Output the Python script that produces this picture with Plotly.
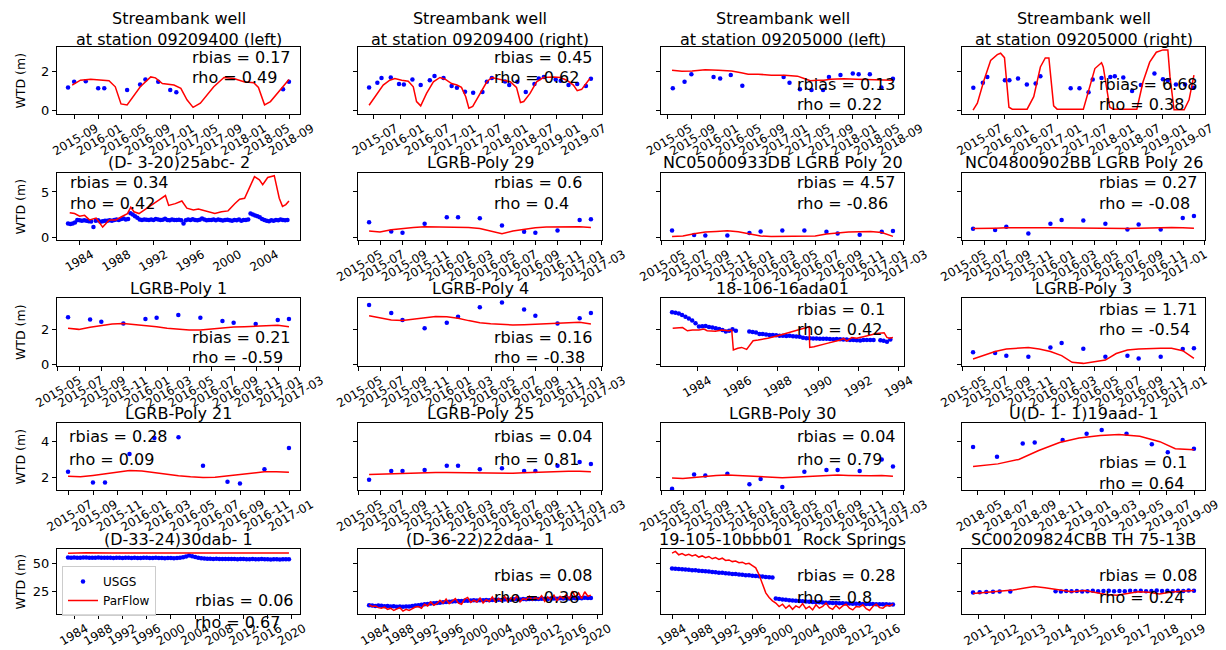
import numpy as np
import pandas as pd
import plotly.graph_objects as go

# ---------------------------------------------------------------- titles / stats
TITLES = [
    "Streambank well<br>at station 09209400 (left)",
    "Streambank well<br>at station 09209400 (right)",
    "Streambank well<br>at station 09205000 (left)",
    "Streambank well<br>at station 09205000 (right)",
    "(D- 3-20)25abc- 2", "LGRB-Poly 29", "NC05000933DB LGRB Poly 20", "NC04800902BB LGRB Poly 26",
    "LGRB-Poly 1", "LGRB-Poly 4", "18-106-16ada01", "LGRB-Poly 3",
    "LGRB-Poly 21", "LGRB-Poly 25", "LGRB-Poly 30", "U(D- 1- 1)19aad- 1",
    "(D-33-24)30dab- 1", "(D-36-22)22daa- 1", "19-105-10bbb01  Rock Springs", "SC00209824CBB TH 75-13B",
]
RBIAS = [0.17, 0.45, 0.13, 6.68, 0.34, 0.6, 4.57, 0.27, 0.21, 0.16, 0.1, 1.71,
         0.28, 0.04, 0.04, 0.1, 0.06, 0.08, 0.28, 0.08]
RHO = [0.49, 0.62, 0.22, 0.38, 0.42, 0.4, -0.86, -0.08, -0.59, -0.38, 0.42, -0.54,
       0.09, 0.81, 0.79, 0.64, 0.67, 0.38, 0.8, 0.24]

# ---------------------------------------------------------------- panel 1
P1_OBS_T = ['2015-08-01', '2015-09-01', '2015-10-30', '2016-01-01', '2016-02-01', '2016-05-27', '2016-08-01',
            '2016-08-28', '2016-11-01', '2017-01-01', '2017-02-01', '2018-07-28', '2018-08-27']
P1_OBS = [1.17, 1.46, 1.49, 1.12, 1.12, 1.03, 1.32, 1.58, 1.46, 1.03, 0.92, 1.08, 1.46]
P1_SIM_T = ['2015-08-22', '2015-10-03', '2015-11-24', '2016-01-13', '2016-02-25', '2016-03-28', '2016-04-26',
            '2016-05-27', '2016-08-02', '2016-09-24', '2016-10-18', '2016-11-22', '2017-01-20', '2017-02-24',
            '2017-03-27', '2017-04-27', '2017-06-03', '2017-08-10', '2017-10-01', '2017-11-20', '2018-01-10',
            '2018-03-01', '2018-03-25', '2018-04-25', '2018-05-25', '2018-08-27']
P1_SIM = [1.29, 1.54, 1.59, 1.54, 1.51, 1.2, 0.32, 0.27, 1.2, 1.71, 1.66, 1.37, 1.29, 1.12, 0.53, 0.14, 0.36,
          1.2, 1.68, 1.63, 1.46, 1.41, 1.17, 0.27, 0.44, 1.58]

# ---------------------------------------------------------------- panel 2
P2_OBS_T = ['2015-05-29', '2015-07-26', '2015-08-24', '2015-10-28', '2015-12-25', '2016-01-28', '2016-03-28',
            '2016-05-25', '2016-07-28', '2016-08-30', '2016-11-01', '2016-12-28', '2017-02-03', '2017-04-01',
            '2017-05-28', '2017-08-01', '2017-09-01', '2017-10-06', '2018-01-07', '2018-02-05', '2018-04-03',
            '2018-06-01', '2018-08-01', '2018-09-01', '2018-10-06', '2018-12-28', '2019-02-01', '2019-03-28',
            '2019-05-28', '2019-07-28', '2019-09-01']
P2_OBS = [1.17, 1.41, 1.66, 1.68, 1.34, 1.32, 1.58, 1.29, 1.54, 1.76, 1.66, 1.24, 1.15, 0.95, 0.9, 0.93, 1.46,
          1.66, 1.47, 1.29, 1.46, 0.93, 1.34, 1.63, 1.71, 1.58, 1.51, 1.29, 1.34, 1.24, 1.61]
P2_SIM_T = ['2015-05-29', '2015-07-19', '2015-09-05', '2015-10-21', '2015-11-26', '2016-01-13', '2016-02-28',
            '2016-04-03', '2016-04-26', '2016-05-25', '2016-07-05', '2016-08-22', '2016-10-07', '2016-11-12',
            '2016-12-28', '2017-02-03', '2017-03-07', '2017-04-06', '2017-04-28', '2017-05-25', '2017-07-16',
            '2017-09-01', '2017-10-06', '2017-12-04', '2018-02-12', '2018-03-28', '2018-04-25', '2018-05-18',
            '2018-07-01', '2018-08-16', '2018-10-03', '2018-12-12', '2019-01-28', '2019-03-16', '2019-05-01',
            '2019-05-28', '2019-06-28', '2019-08-25']
P2_SIM = [0.25, 0.78, 1.29, 1.54, 1.63, 1.54, 1.49, 1.2, 0.44, 0.22, 0.86, 1.46, 1.68, 1.59, 1.37, 1.29, 1.17,
          0.69, 0.1, 0.19, 0.86, 1.46, 1.68, 1.59, 1.46, 1.17, 0.39, 0.44, 0.86, 1.46, 1.68, 1.71, 1.68, 1.54,
          1.29, 1.0, 1.07, 1.63]

# ---------------------------------------------------------------- panel 3
P3_OBS_T = ['2015-05-27', '2015-07-28', '2015-09-02', '2015-12-28', '2016-02-01', '2016-03-28', '2016-05-28',
            '2017-01-01', '2017-02-01', '2017-03-28', '2017-05-28', '2017-07-28', '2017-08-28', '2017-10-28',
            '2018-01-01', '2018-02-01', '2018-04-01', '2018-06-01', '2018-08-01']
P3_OBS = [1.12, 1.46, 1.85, 1.71, 1.63, 1.81, 1.25, 1.71, 1.41, 1.07, 1.03, 1.03, 1.71, 1.81, 1.88, 1.85, 1.85,
          1.17, 1.61]
P3_SIM_T = ['2015-05-23', '2015-07-14', '2015-09-06', '2015-11-14', '2016-01-23', '2016-04-01', '2016-05-22',
            '2016-06-28', '2016-08-19', '2016-10-28', '2017-01-06', '2017-03-15', '2017-04-19', '2017-05-22',
            '2017-06-28', '2017-08-01', '2017-09-06', '2017-11-15', '2018-01-22', '2018-04-01', '2018-06-10',
            '2018-08-01']
P3_SIM = [2.05, 2.0, 2.02, 2.08, 2.05, 2.02, 1.92, 1.85, 1.85, 1.8, 1.8, 1.75, 1.63, 1.51, 1.54, 1.54, 1.59,
          1.61, 1.59, 1.58, 1.54, 1.54]

# ---------------------------------------------------------------- panel 4
P4_OBS_T = ['2015-05-27', '2015-08-01', '2015-09-01', '2016-01-01', '2016-02-01', '2016-04-01', '2016-06-01',
            '2016-08-01', '2016-09-03', '2017-04-01', '2017-06-01', '2017-08-03', '2017-09-01', '2017-11-01',
            '2018-01-01', '2018-02-01', '2018-04-01', '2018-06-01', '2018-08-01', '2018-11-03', '2019-01-01',
            '2019-02-04', '2019-04-01', '2019-06-03', '2019-08-01']
P4_OBS = [1.15, 1.41, 1.71, 1.54, 1.54, 1.63, 1.32, 1.37, 1.75, 1.12, 1.12, 0.92, 1.58, 1.66, 1.71, 1.75, 1.68,
          0.98, 1.29, 1.88, 1.59, 1.54, 1.32, 1.32, 1.15]
P4_SIM_T = ['2015-05-25', '2015-06-24', '2015-08-09', '2015-09-24', '2015-11-09', '2015-12-02', '2015-12-29',
            '2016-01-29', '2016-02-21', '2016-06-03', '2016-07-19', '2016-09-03', '2016-10-07', '2016-11-01',
            '2016-12-04', '2016-12-28', '2017-06-28', '2017-08-13', '2017-09-16', '2017-11-01', '2017-11-13',
            '2017-12-28', '2018-01-21', '2018-07-04', '2018-08-16', '2018-10-01', '2018-11-16', '2019-01-01',
            '2019-02-04', '2019-02-19', '2019-03-19', '2019-05-28', '2019-07-01', '2019-08-04']
P4_SIM = [0.0, 0.36, 1.54, 2.56, 2.86, 2.93, 2.7, 0.15, 0.05, 0.05, 0.69, 2.22, 2.69, 2.69, 0.22, 0.05, 0.05,
          1.2, 2.14, 2.44, 2.22, 0.15, 0.05, 0.05, 1.46, 2.47, 2.98, 3.1, 3.1, 1.71, 0.02, 0.02, 0.53, 1.8]

# ---------------------------------------------------------------- panel 5 (quarterly obs from 1982.75)
P5_OBS_START = 1982.75
P5_OBS = [1.50,
          1.45, 1.50, 1.62, 1.88, 1.85, 1.80, 1.86, 1.80, 1.75, 1.72, 1.10, 1.80, 1.85, 1.70, 1.74, 1.80,
          1.80, 1.86, 1.80, 1.90, 1.95, 1.90, 2.00, 2.05, 1.95, 2.00, 2.65, 2.50, 2.30, 2.15, 1.95, 1.90,
          1.95, 1.92, 1.88, 1.95, 1.90, 2.00, 1.95, 1.88, 1.92, 2.02, 1.90, 1.85, 1.95, 1.90, 1.88, 1.92,
          1.85, 1.50, 1.85, 1.95, 1.90, 1.98, 1.88, 1.85, 1.92, 2.05, 1.95, 1.85, 1.90, 1.88, 1.95, 1.85,
          1.95, 1.90, 1.82, 1.88, 1.92, 1.85, 1.80, 1.90, 1.85, 1.95, 1.80, 1.88, 1.90, 1.95, 2.60, 2.50,
          2.40, 2.30, 2.20, 2.00, 1.90, 1.80, 1.75, 1.85, 1.80, 1.90, 1.85, 1.95,
          1.90, 1.85, 1.90]
P5_SIM_YR = [1982.93, 1983.46, 1984.0, 1984.54, 1985.07, 1985.79, 1986.32, 1986.5, 1987.21, 1987.93, 1988.64,
             1989.18, 1989.54, 1989.89, 1990.43, 1991.14, 1991.86, 1992.57, 1993.29, 1993.64, 1994.36, 1995.07,
             1995.61, 1996.32, 1996.86, 1997.57, 1998.64, 1999.36, 2000.07, 2000.79, 2001.32, 2001.86, 2002.39,
             2002.93, 2003.46, 2003.82, 2004.36, 2005.07, 2005.61, 2005.96, 2006.32, 2006.66]
P5_SIM = [2.7, 2.6, 2.3, 2.4, 1.9, 2.1, 1.35, 1.1, 1.9, 1.9, 2.3, 2.6, 3.3, 2.8, 2.6, 3.1, 3.7, 4.1, 4.6, 3.5,
          3.7, 4.0, 3.2, 3.0, 3.1, 2.9, 2.6, 2.8, 2.9, 3.7, 4.2, 4.3, 5.5, 6.7, 6.35, 5.8, 6.6, 6.8, 4.3, 3.4,
          3.6, 4.0]

# ---------------------------------------------------------------- LGRB panels (shared sample dates)
LGRB_OBS_T = ['2015-05-31', '2015-07-31', '2015-08-31', '2015-10-31', '2015-12-31', '2016-01-31', '2016-03-31',
              '2016-05-31', '2016-07-31', '2016-08-31', '2016-10-31', '2016-12-31', '2017-01-31']
LGRB_SIM_T = [d.strftime('%Y-%m-%d') for d in pd.date_range('2015-05-31', '2017-01-31', freq='ME')]

P6_OBS = [1.64, 0.62, 0.47, 1.46, 2.19, 2.19, 2.08, 1.28, 0.58, 0.47, 0.73, 1.9, 1.97]
P6_SIM = [0.66, 0.55, 0.8, 0.95, 1.06, 1.13, 1.13, 1.1, 1.1, 1.06, 0.95, 0.62, 0.36, 0.66, 0.88, 1.02, 1.1,
          1.13, 1.17, 1.13, 1.06]
P7_OBS = [0.73, 0.22, 0.18, 0.18, 0.44, 0.62, 0.73, 0.73, 0.58, 0.4, 0.26, 0.58, 0.66]
P7_SIM = [0.07, 0.11, 0.36, 0.55, 0.62, 0.69, 0.58, 0.36, 0.11, 0.07, 0.07, 0.07, 0.07, 0.11, 0.33, 0.47, 0.55,
          0.58, 0.62, 0.51, 0.07]
P8_OBS = [0.91, 0.77, 1.13, 0.4, 1.46, 1.9, 1.82, 1.46, 0.84, 1.39, 0.84, 2.12, 2.34]
P8_SIM = [0.95, 0.93, 0.98, 1.02, 1.05, 1.06, 1.04, 1.02, 1.0, 0.98, 0.96, 0.95, 0.93, 0.92, 0.95, 0.98, 1.02,
          1.05, 1.06, 1.02, 0.98]
P9_OBS = [2.67, 2.55, 2.42, 2.32, 2.57, 2.65, 2.8, 2.65, 2.46, 2.36, 2.29, 2.51, 2.57]
P9_SIM = [2.04, 1.98, 2.1, 2.19, 2.29, 2.32, 2.27, 2.21, 2.13, 2.04, 1.98, 1.94, 1.94, 2.0, 2.08, 2.11, 2.13,
          2.17, 2.21, 2.21, 2.13]
P10_OBS = [3.37, 2.91, 2.51, 2.04, 2.36, 2.7, 3.24, 3.52, 3.12, 2.76, 2.32, 2.61, 2.91]
P10_SIM = [2.76, 2.63, 2.51, 2.48, 2.55, 2.63, 2.72, 2.7, 2.61, 2.48, 2.36, 2.3, 2.27, 2.23, 2.25, 2.27, 2.29,
           2.32, 2.34, 2.38, 2.29]
P12_OBS = [0.67, 0.63, 0.48, 0.42, 0.95, 1.2, 0.88, 0.42, 0.48, 0.32, 0.42, 0.86, 0.9]
P12_SIM = [0.29, 0.48, 0.72, 0.86, 0.91, 0.95, 0.86, 0.72, 0.48, 0.1, 0.04, 0.13, 0.23, 0.6, 0.8, 0.86, 0.9,
           0.9, 0.9, 0.76, 0.32]
P14_OBS = [1.85, 2.35, 2.35, 2.4, 2.65, 2.65, 2.45, 2.5, 2.35, 2.35, 2.65, 2.85, 2.75]
P14_SIM = [2.15, 2.17, 2.2, 2.22, 2.25, 2.27, 2.27, 2.26, 2.25, 2.23, 2.22, 2.2, 2.2, 2.22, 2.25, 2.28, 2.3,
           2.32, 2.33, 2.33, 2.3]
P15_OBS = [1.35, 2.15, 2.1, 2.2, 1.6, 1.9, 1.45, 2.3, 2.4, 2.4, 2.35, 3.0, 2.6]
P15_SIM = [1.95, 1.93, 1.98, 2.05, 2.1, 2.13, 2.1, 2.05, 2.0, 1.98, 1.97, 2.0, 2.03, 2.07, 2.1, 2.12, 2.1, 2.07,
           2.08, 2.1, 2.05]

# ---------------------------------------------------------------- panel 11 (bi-monthly obs from 1982-10)
P11_OBS_START = '1982-10-01'
P11_OBS = [2.95, 2.93, 2.88, 2.80, 2.70, 2.60, 2.48, 2.33, 2.14, 2.16, 2.17, 2.12, 2.09, 2.04, 2.00, 1.95,
           1.86, 1.90, 1.98, 1.90, None, None, None, 1.86, 1.83, 1.80, 1.72, 1.71, 1.69, 1.66, 1.66, 1.64,
           1.62, 1.61, 1.60, 1.61, 1.59, 1.58, 1.56, 1.50, 1.47, 1.48, 1.46, 1.46, 1.45, 1.44, 1.44, 1.43,
           1.42, 1.43, 1.41, 1.40, 1.40, 1.38, 1.37, 1.36, 1.35, 1.37, 1.38, 1.37, 1.37, None, 1.36, 1.33,
           1.28, 1.40]
P11_SIM_YR = [1982.78, 1983.10, 1983.27, 1983.51, 1983.76, 1984.08, 1984.33, 1984.49, 1984.90, 1985.22, 1985.55,
              1985.71, 1985.79, 1986.01, 1986.20, 1986.45, 1986.77, 1987.02, 1987.5, 1988.0, 1988.5, 1989.0,
              1989.55, 1989.58, 1989.79, 1990.44, 1991.10, 1991.26, 1991.42, 1991.67, 1991.91, 1992.24, 1992.56,
              1992.89, 1993.27, 1993.41, 1993.54, 1993.71]
P11_SIM = [2.04, 2.04, 2.08, 1.90, 1.94, 1.94, 2.00, 1.90, 1.87, 1.94, 1.90, 1.94, 0.80, 0.90, 0.95, 0.84,
           1.33, 1.37, 1.47, 1.62, 1.78, 1.95, 2.13, 0.95, 0.99, 1.18, 1.37, 1.47, 1.31, 1.52, 1.47, 1.56,
           1.66, 1.75, 1.79, 1.52, 1.47, 1.52]

# ---------------------------------------------------------------- panel 13
P13_OBS_T = ['2015-06-30', '2015-08-31', '2015-09-30', '2015-11-30', '2016-01-31', '2016-03-31', '2016-05-31',
             '2016-07-31', '2016-08-31', '2016-10-31', '2016-12-31']
P13_OBS = [2.3, 1.7, 1.7, 3.3, 4.2, 4.25, 2.65, 1.75, 1.65, 2.45, 3.65]
P13_SIM_T = [d.strftime('%Y-%m-%d') for d in pd.date_range('2015-06-30', '2016-12-31', freq='ME')]
P13_SIM = [2.05, 2.02, 2.1, 2.2, 2.3, 2.38, 2.35, 2.25, 2.15, 2.08, 2.02, 1.98, 2.0, 2.08, 2.18, 2.25, 2.3,
           2.3, 2.28]

# ---------------------------------------------------------------- panel 16
P16_OBS_T = ['2018-04-20', '2018-06-13', '2018-08-10', '2018-09-06', '2018-11-08', '2019-01-01', '2019-02-04',
             '2019-04-01', '2019-05-28', '2019-07-03', '2019-08-31']
P16_OBS = [3.7, 3.15, 3.9, 3.95, 4.1, 4.45, 4.65, 4.45, 3.85, 3.4, 3.6]
P16_SIM_T = ['2018-04-20', '2018-06-15', '2018-08-01', '2018-09-15', '2018-11-01', '2018-12-15', '2019-02-01',
             '2019-03-15', '2019-05-01', '2019-06-15', '2019-07-20', '2019-08-31']
P16_SIM = [2.6, 2.75, 3.0, 3.5, 3.95, 4.2, 4.35, 4.4, 4.3, 4.0, 3.6, 3.55]

# ---------------------------------------------------------------- panel 17 (semi-annual obs from 1983.0)
P17_OBS_START = 1983.0
P17_OBS = [55.2, 55.0, 55.1, 54.9, 55.0, 55.2, 55.1, 54.8, 54.9, 55.0, 55.1, 54.9, 54.8, 55.0, 54.9, 54.7,
           54.8, 54.9, 54.6, 54.8, 54.9, 54.7, 54.8, 54.6, 54.7, 54.9, 54.8, 54.6, 54.7, 54.8, 54.6, 54.7,
           54.5, 54.6, 54.7, 54.5, 54.6, 54.8, 55.3, 56.0, 56.8, 56.2, 55.5, 54.8, 54.4, 54.2, 54.1, 54.0,
           53.9, 54.0, 53.8, 53.9, 53.8, 53.7, 53.9, 53.7, 53.6, 53.8, 53.7, 53.5, 53.6, 53.7, 53.5, 53.6,
           53.7, 53.5, 53.6, 53.4, 53.5, 53.6, 53.4, 53.5, 53.6, 53.5]
P17_SIM_YR = [1983.0, 1986.0, 1990.0, 1995.0, 2000.0, 2003.0, 2006.0, 2010.0, 2015.0, 2019.5]
P17_SIM = [58.8, 59.2, 59.0, 59.1, 58.8, 59.3, 59.0, 58.9, 59.1, 59.0]

# ---------------------------------------------------------------- panel 18 (semi-annual from 1983.0)
P18_START = 1983.0
P18_OBS = [13.0, 12.8, 12.5, 12.9, 12.6, 12.3, 12.4, 12.0, 12.2, 11.8, 12.0, 11.7, 11.9, 12.1, 12.4, 12.8,
           13.2, 13.6, 14.0, 14.3, 14.6, 14.9, 15.1, 15.4, 15.7, 15.9, 16.2, 16.4, 16.6, 16.8, 16.9, 17.1,
           17.0, 17.2, 17.4, 17.3, 17.5, 17.6, 17.8, 17.6, 17.7, 17.9, 18.0, 17.8, 18.1, 18.2, 18.0, 18.3,
           18.4, 18.2, 18.5, 18.4, 18.6, 18.5, 18.7, 18.6, 18.8, 18.9, 18.7, 19.0, 19.1, 18.9, 19.2, 19.0,
           19.3, 19.1, 19.4, 19.2, 19.5, 19.3, 19.6, 19.4, 19.5]
P18_SIM = [13.5, 12.0, 12.5, 11.0, 10.5, 11.5, 9.5, 10.5, 8.5, 10.0, 11.0, 8.0, 9.5, 8.5, 10.0, 11.5,
           12.0, 10.5, 14.0, 12.5, 16.0, 13.0, 14.5, 17.5, 15.0, 18.5, 14.5, 17.0, 19.0, 15.0, 14.0, 18.5,
           20.0, 15.5, 17.5, 16.0, 19.5, 15.0, 18.0, 16.5, 20.5, 16.0, 19.0, 17.0, 21.0, 16.5, 19.5, 17.5,
           21.5, 16.0, 19.0, 18.0, 21.0, 17.5, 20.0, 18.5, 21.5, 16.5, 20.5, 18.0, 22.0, 17.0, 21.0, 19.0,
           22.5, 18.5, 25.5, 20.0, 24.0, 19.0, 25.0, 21.0, 22.0]

# ---------------------------------------------------------------- panel 19 (semi-annual from 1984.0)
P19_START = 1984.0
P19_OBS = [45.5, 45.3, 45.0, 44.8, 44.5, 44.3, 44.0, 43.8, 43.5, 43.2, 43.0, 42.7, 42.4, 42.1, 41.8, 41.6,
           41.3, 41.0, 40.7, 40.5, 40.2, 39.9, 39.6, 39.4, 39.1, 38.8, 38.6, 38.3, 38.0, 37.8, 37.5,
           19.0, 18.6, 18.2, 17.9, 17.6, 17.3, 17.0, 16.8, 16.6, 16.4, 16.2, 16.0, 15.8, 15.7, 15.5, 15.4,
           15.2, 15.1, 15.0, 14.9, 14.8, 14.7, 14.6, 14.5, 14.4, 14.4, 14.3, 14.2, 14.2, 14.1, 14.0, 14.0,
           13.9, 13.9, 13.8, 13.8]
P19_SIM = [59.0, 60.5, 57.5, 58.5, 57.0, 58.0, 56.5, 57.5, 55.5, 56.5, 55.0, 56.0, 54.0, 55.0, 53.5, 54.5,
           52.5, 53.0, 51.5, 52.0, 50.5, 51.0, 49.5, 50.0, 48.0, 46.0, 40.0, 32.0, 24.0, 20.0, 17.0,
           15.0, 12.0, 14.0, 10.5, 13.0, 9.5, 12.5, 11.0, 14.5, 10.0, 12.0, 9.0, 13.5, 10.5, 12.0, 15.0,
           11.0, 9.5, 13.0, 10.0, 12.5, 14.0, 10.5, 9.0, 12.0, 11.5, 13.5, 10.0, 8.5, 12.0, 14.0, 11.0,
           10.5, 13.0, 12.5, 14.0]

# ---------------------------------------------------------------- panel 20
P20_OBS_YR = [2010.8, 2011.05, 2011.3, 2011.55, 2011.8, 2012.2, 2013.9, 2014.1, 2014.3, 2014.5, 2014.7, 2014.9,
              2015.1, 2015.3, 2015.5, 2015.7, 2015.9, 2016.1, 2016.3, 2016.5, 2016.7, 2016.9, 2017.1, 2017.3,
              2017.5, 2017.7, 2017.9, 2018.1, 2018.3, 2018.5, 2018.7, 2018.9, 2019.1]
P20_OBS = [24.3, 24.6, 24.8, 25.0, 25.2, 25.3, 25.5, 25.2, 25.6, 25.4, 25.7, 25.3, 25.5, 25.8, 25.4, 25.6,
           25.9, 25.5, 25.7, 25.4, 25.8, 25.6, 25.9, 25.5, 25.7, 26.0, 25.6, 25.8, 25.5, 25.9, 25.7, 26.0, 25.8]
P20_SIM_YR = [2010.8, 2011.3, 2011.8, 2012.3, 2012.8, 2013.1, 2013.5, 2014.0, 2014.5, 2015.0, 2015.4, 2015.8,
              2016.2, 2016.6, 2017.0, 2017.4, 2017.8, 2018.2, 2018.6, 2019.1]
P20_SIM = [23.5, 24.5, 25.5, 26.5, 28.5, 29.5, 28.5, 26.5, 25.0, 26.0, 24.0, 22.5, 22.0, 23.5, 25.0, 24.5,
           23.0, 24.5, 25.5, 26.0]

# ---------------------------------------------------------------- axis ticks (labels)
ROW_YTICKS = [[0, 2], [0, 5], [0, 2], [2, 4], [25, 50]]
ROW_YRANGE = [[-0.2, 3.25], [-0.33, 7.1], [-0.11, 3.77], [1.28, 5.05], [5.4, 62.6]]


# ================================================================ helpers
def dec2date(vals):
    out = []
    for v in vals:
        y = int(np.floor(v))
        f = v - y
        a = pd.Timestamp(year=y, month=1, day=1)
        b = pd.Timestamp(year=y + 1, month=1, day=1)
        out.append(a + (b - a) * f)
    return out


def grid_years(start, step, n):
    return dec2date([start + step * i for i in range(n)])


def month_ticks(start, end, step):
    d = pd.date_range(start, end, freq=f'{step}MS')
    return [x.strftime('%Y-%m-%d') for x in d], [x.strftime('%Y-%m') for x in d]


def year_ticks(y0, y1, step):
    ys = list(range(y0, y1 + 1, step))
    return [f'{y}-01-01' for y in ys], [str(y) for y in ys]


def to_ts(lst):
    return [pd.Timestamp(x) for x in lst]


P5_OBS_T = grid_years(P5_OBS_START, 0.25, len(P5_OBS))
P11_OBS_T = list(pd.date_range(P11_OBS_START, periods=len(P11_OBS), freq='2MS'))

panels = [
    (to_ts(P1_OBS_T), P1_OBS, to_ts(P1_SIM_T), P1_SIM, month_ticks('2015-09-01', '2018-09-01', 4)),
    (to_ts(P2_OBS_T), P2_OBS, to_ts(P2_SIM_T), P2_SIM, month_ticks('2015-07-01', '2019-07-01', 6)),
    (to_ts(P3_OBS_T), P3_OBS, to_ts(P3_SIM_T), P3_SIM, month_ticks('2015-05-01', '2018-09-01', 4)),
    (to_ts(P4_OBS_T), P4_OBS, to_ts(P4_SIM_T), P4_SIM, month_ticks('2015-07-01', '2019-07-01', 6)),
    (P5_OBS_T, P5_OBS, dec2date(P5_SIM_YR), P5_SIM, year_ticks(1984, 2004, 4)),
    (to_ts(LGRB_OBS_T), P6_OBS, to_ts(LGRB_SIM_T), P6_SIM, month_ticks('2015-05-01', '2017-03-01', 2)),
    (to_ts(LGRB_OBS_T), P7_OBS, to_ts(LGRB_SIM_T), P7_SIM, month_ticks('2015-05-01', '2017-03-01', 2)),
    (to_ts(LGRB_OBS_T), P8_OBS, to_ts(LGRB_SIM_T), P8_SIM, month_ticks('2015-05-01', '2017-03-01', 2)),
    (to_ts(LGRB_OBS_T), P9_OBS, to_ts(LGRB_SIM_T), P9_SIM, month_ticks('2015-05-01', '2017-03-01', 2)),
    (to_ts(LGRB_OBS_T), P10_OBS, to_ts(LGRB_SIM_T), P10_SIM, month_ticks('2015-05-01', '2017-03-01', 2)),
    (P11_OBS_T, P11_OBS, dec2date(P11_SIM_YR), P11_SIM, year_ticks(1984, 1994, 2)),
    (to_ts(LGRB_OBS_T), P12_OBS, to_ts(LGRB_SIM_T), P12_SIM, month_ticks('2015-05-01', '2017-03-01', 2)),
    (to_ts(P13_OBS_T), P13_OBS, to_ts(P13_SIM_T), P13_SIM, month_ticks('2015-07-01', '2017-01-01', 2)),
    (to_ts(LGRB_OBS_T), P14_OBS, to_ts(LGRB_SIM_T), P14_SIM, month_ticks('2015-05-01', '2017-03-01', 2)),
    (to_ts(LGRB_OBS_T), P15_OBS, to_ts(LGRB_SIM_T), P15_SIM, month_ticks('2015-05-01', '2017-03-01', 2)),
    (to_ts(P16_OBS_T), P16_OBS, to_ts(P16_SIM_T), P16_SIM, month_ticks('2018-05-01', '2019-09-01', 2)),
    (grid_years(P17_OBS_START, 0.5, len(P17_OBS)), P17_OBS, dec2date(P17_SIM_YR), P17_SIM,
     year_ticks(1984, 2020, 4)),
    (grid_years(P18_START, 0.5, len(P18_OBS)), P18_OBS, grid_years(P18_START, 0.5, len(P18_SIM)), P18_SIM,
     year_ticks(1984, 2020, 4)),
    (grid_years(P19_START, 0.5, len(P19_OBS)), P19_OBS, grid_years(P19_START, 0.5, len(P19_SIM)), P19_SIM,
     year_ticks(1984, 2016, 4)),
    (dec2date(P20_OBS_YR), P20_OBS, dec2date(P20_SIM_YR), P20_SIM, year_ticks(2011, 2019, 1)),
]

# ================================================================ layout (pixels)
W, H = 1226, 650
COL_PX = [(57, 300), (358, 602), (661, 904), (962, 1205)]
ROW_PX = [(47, 114), (173, 240), (298, 366), (423, 490), (549, 614)]
TITLE_Y = [29, 162, 288, 413, 539]
STAT_POS = [(190, 57, 77), (492, 57, 77), (795, 85, 104), (1097, 85, 104),
            (68, 183, 203), (492, 183, 203), (795, 183, 203), (1097, 183, 203),
            (190, 337, 357), (492, 337, 357), (795, 309, 329), (1097, 309, 329),
            (67, 436, 459), (492, 436, 459), (795, 436, 459), (1097, 462, 483),
            (193, 600, 622), (492, 575, 597), (795, 575, 597), (1097, 575, 597)]
FONT = "DejaVu Sans"


def px_x(p):
    return p / W


def px_y(p):
    return 1 - p / H


fig = go.Figure()
layout = dict(width=W, height=H, margin=dict(l=0, r=0, t=0, b=0, autoexpand=False),
              paper_bgcolor='white', plot_bgcolor='white', template='none',
              font=dict(family=FONT, color='black'), hovermode=False,
              showlegend=True,
              legend=dict(x=px_x(62), y=px_y(566), xanchor='left', yanchor='top',
                          bgcolor='rgba(255,255,255,0.85)', bordercolor='#cccccc', borderwidth=1,
                          font=dict(size=12, family=FONT), itemwidth=30, tracegroupgap=0))
annotations = []

for i, (ox, oy, sx, sy, (tv, tt)) in enumerate(panels):
    r, c = divmod(i, 4)
    k = i + 1
    xa = 'xaxis' if k == 1 else f'xaxis{k}'
    ya = 'yaxis' if k == 1 else f'yaxis{k}'
    xr = 'x' if k == 1 else f'x{k}'
    yr = 'y' if k == 1 else f'y{k}'

    fig.add_trace(go.Scatter(x=ox, y=oy, mode='markers', name='USGS',
                             marker=dict(color='blue', size=4.5, line=dict(width=0)),
                             showlegend=(i == 16), xaxis=xr, yaxis=yr))
    fig.add_trace(go.Scatter(x=sx, y=sy, mode='lines', name='ParFlow',
                             line=dict(color='red', width=1.5),
                             showlegend=(i == 16), xaxis=xr, yaxis=yr))

    allx = pd.Series(list(ox) + list(sx))
    lo, hi = allx.min(), allx.max()
    pad = (hi - lo) * 0.05
    xrng = [(lo - pad).strftime('%Y-%m-%d %H:%M:%S'), (hi + pad).strftime('%Y-%m-%d %H:%M:%S')]

    longest = max(len(t) for t in tt)
    layout[xa] = dict(domain=[px_x(COL_PX[c][0]), px_x(COL_PX[c][1])], anchor=yr, type='date',
                      range=xrng, tickmode='array', tickvals=tv, ticktext=tt, tickangle=-30,
                      ticklabelshift=int(longest * 3.2), ticklabelstandoff=-2, automargin=False,
                      showgrid=False, zeroline=False, showline=True, mirror=True, linecolor='black',
                      linewidth=1, ticks='outside', ticklen=4, tickwidth=1, tickcolor='black',
                      tickfont=dict(size=12, family=FONT, color='black'))
    layout[ya] = dict(domain=[px_y(ROW_PX[r][1]), px_y(ROW_PX[r][0])], anchor=xr,
                      range=ROW_YRANGE[r], tickmode='array', tickvals=ROW_YTICKS[r],
                      ticktext=[str(v) for v in ROW_YTICKS[r]], showticklabels=(c == 0),
                      automargin=False, showgrid=False, zeroline=False, showline=True, mirror=True,
                      linecolor='black', linewidth=1, ticks='outside', ticklen=4, tickwidth=1,
                      tickcolor='black', tickfont=dict(size=13, family=FONT, color='black'))

    cx = (COL_PX[c][0] + COL_PX[c][1]) / 2
    annotations.append(dict(x=px_x(cx), y=px_y(TITLE_Y[r]), xref='paper', yref='paper',
                            text=TITLES[i], showarrow=False, xanchor='center', yanchor='middle',
                            font=dict(size=16, family=FONT, color='black')))
    sxp, sy1, sy2 = STAT_POS[i]
    annotations.append(dict(x=px_x(sxp), y=px_y(sy1), xref='paper', yref='paper',
                            text=f"rbias = {RBIAS[i]}", showarrow=False, xanchor='left',
                            yanchor='middle', font=dict(size=16, family=FONT, color='black')))
    annotations.append(dict(x=px_x(sxp), y=px_y(sy2), xref='paper', yref='paper',
                            text=f"rho = {RHO[i]}", showarrow=False, xanchor='left',
                            yanchor='middle', font=dict(size=16, family=FONT, color='black')))

for r in range(5):
    annotations.append(dict(x=px_x(20), y=px_y((ROW_PX[r][0] + ROW_PX[r][1]) / 2), xref='paper',
                            yref='paper', text='WTD (m)', textangle=-90, showarrow=False,
                            xanchor='center', yanchor='middle',
                            font=dict(size=12.5, family=FONT, color='black')))

layout['annotations'] = annotations
fig.update_layout(**layout)

fig.write_html("out.html", config={'displayModeBar': False},
               post_script="document.body.style.margin='0';")
